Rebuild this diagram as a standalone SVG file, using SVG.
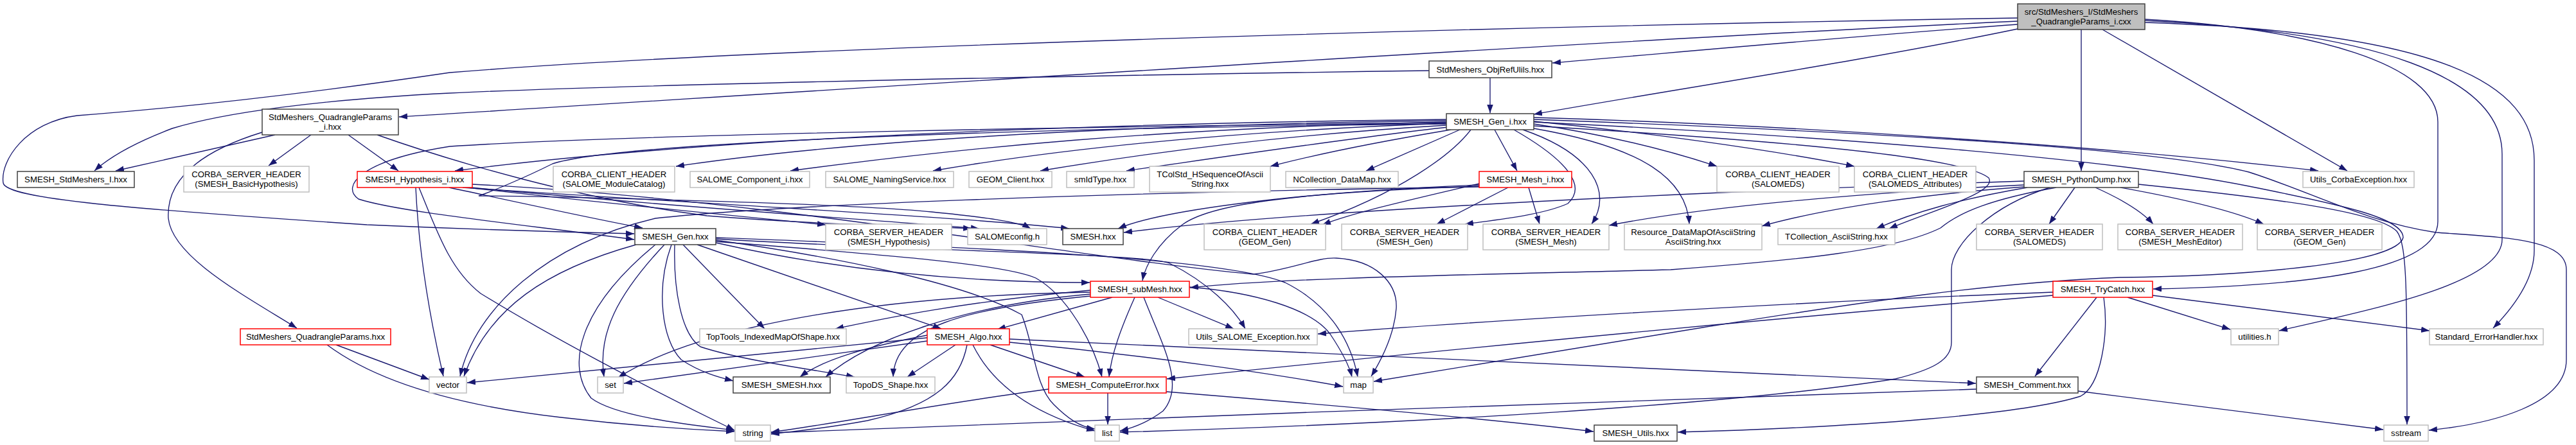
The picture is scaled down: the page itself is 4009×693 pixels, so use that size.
<svg xmlns="http://www.w3.org/2000/svg" width="4009" height="693" viewBox="0 0 4009 693">
<style>
.e{fill:none;stroke:#191970;stroke-width:1.35;marker-end:url(#a)}
.n rect{fill:#ffffff;stroke:#404040;stroke-width:1.5}
.g rect{stroke:#bfbfbf}
.r rect{stroke:#ff0000}
.t rect{fill:#bfbfbf}
text{font-family:"Liberation Sans",Arial,sans-serif;font-size:13.2px;text-anchor:middle;fill:#000000}
</style>
<defs>
<marker id="a" markerWidth="13" markerHeight="10" refX="13" refY="4.75" orient="auto" markerUnits="userSpaceOnUse"><path d="M0,0 L13,4.75 L0,9.5 z" fill="#191970"/></marker>
</defs>
<rect width="4009" height="693" fill="#ffffff"/>
<g id="edges">
<path class="e" d="M3140,33 C2500,62 1300,140 621,182"/>
<path class="e" d="M3140,38 C2900,55 2650,78 2416,98"/>
<path class="e" d="M3140,45 C2900,95 2600,140 2387,178"/>
<path class="e" d="M3239,46 L3239,266"/>
<path class="e" d="M3272,46 L3653,266"/>
<path class="e" d="M3140,28 C2400,40 1200,72 700,113 C450,150 250,170 120,180 C40,190 0,250 5,285 C10,310 200,325 571,350 C750,358 900,362 987,364"/>
<path class="e" d="M3338,30 C3600,45 3794,100 3794,190 L3794,345 C3794,420 3600,445 3351,450"/>
<path class="e" d="M3338,32 C3700,50 3894,120 3894,240 L3894,373 C3894,440 3700,480 3547,515"/>
<path class="e" d="M3338,35 C3800,50 3944,130 3944,250 L3944,390 C3944,430 3920,470 3880,511"/>
<path class="e" d="M2319,121 L2319,176"/>
<path class="e" d="M2224,110 C1500,120 900,135 700,145 C500,155 350,175 268,200 C210,222 170,245 147,266"/>
<path class="e" d="M428,210 L180,266"/>
<path class="e" d="M484,210 L418,258"/>
<path class="e" d="M542,210 L620,266"/>
<path class="e" d="M408,206 C330,230 258,270 262,340 C268,400 380,460 462,511"/>
<path class="e" d="M587,210 C700,250 900,310 1100,336 C1300,352 1450,352 1512,356"/>
<path class="e" d="M647,292 C652,400 670,500 690,586"/>
<path class="e" d="M652,292 C680,360 700,420 748,457 C850,520 1000,600 1143,670"/>
<path class="e" d="M699,292 C820,318 920,340 1000,355"/>
<path class="e" d="M728,292 C900,312 1100,332 1285,350"/>
<path class="e" d="M733,292 C1000,318 1350,342 1524,356"/>
<path class="e" d="M720,292 C1100,318 1500,338 1664,356"/>
<path class="e" d="M735,287 C1200,310 1700,405 1950,427 C2010,420 2050,400 2080,402 C2140,405 2175,440 2173,480 C2170,520 2150,560 2134,586"/>
<path class="e" d="M2251,186 C1700,192 1100,215 708,266"/>
<path class="e" d="M2251,188 C1700,195 1300,222 1052,259"/>
<path class="e" d="M2251,190 C1800,200 1500,230 1230,266"/>
<path class="e" d="M2251,192 C1900,205 1650,232 1452,266"/>
<path class="e" d="M2251,195 C2000,210 1800,236 1619,266"/>
<path class="e" d="M2253,198 C2100,215 1900,245 1753,266"/>
<path class="e" d="M2258,202 C2150,220 2050,240 1977,259"/>
<path class="e" d="M2272,202 L2126,266"/>
<path class="e" d="M2326,202 L2361,266"/>
<path class="e" d="M2251,191 C1800,196 1000,208 700,228 C560,250 530,290 558,310 C620,330 800,348 987,373"/>
<path class="e" d="M2251,193 C1500,200 950,225 860,255 C810,280 760,300 745,305 C800,305 1300,315 1450,330 C1530,338 1585,345 1604,356"/>
<path class="e" d="M2289,202 C2260,240 2180,300 2040,349"/>
<path class="e" d="M2356,202 C2440,250 2470,290 2440,317 C2400,335 2330,342 2280,349"/>
<path class="e" d="M2370,202 C2480,240 2510,300 2477,349"/>
<path class="e" d="M2387,200 C2560,230 2625,280 2629,349"/>
<path class="e" d="M2387,193 C2500,210 2600,235 2672,259"/>
<path class="e" d="M2387,189 C2550,205 2750,232 2886,259"/>
<path class="e" d="M2387,183 C2800,195 3300,230 3608,266"/>
<path class="e" d="M2387,196 C2700,215 3050,240 3095,277 C3110,300 3000,330 2940,356"/>
<path class="e" d="M2387,186 C2900,205 3350,230 3500,268 C3600,300 3680,345 3791,362 C3900,370 3994,372 3994,420 L3994,560 C3994,630 3880,660 3780,670"/>
<path class="e" d="M2387,190 C2900,215 3300,250 3500,290 C3650,320 3740,340 3740,370 C3730,410 3500,430 3300,432 C3100,440 2900,470 2650,510 C2400,550 2250,575 2138,594"/>
<path class="e" d="M2347,292 L2236,349"/>
<path class="e" d="M2379,292 L2396,349"/>
<path class="e" d="M2302,286 C2200,310 2110,330 2058,350"/>
<path class="e" d="M2302,288 C2000,300 1800,330 1740,356"/>
<path class="e" d="M2302,290 C2000,300 1880,320 1840,350 C1800,380 1782,415 1778,437"/>
<path class="e" d="M2302,291 C1700,300 1200,320 1020,340 C850,380 740,480 716,586"/>
<path class="e" d="M3150,282 C2600,300 2000,330 1749,362"/>
<path class="e" d="M3150,288 C2900,300 2650,322 2504,351"/>
<path class="e" d="M3150,291 C3000,302 2850,322 2742,352"/>
<path class="e" d="M3155,292 C3050,310 2980,330 2920,356"/>
<path class="e" d="M3229,292 L3189,349"/>
<path class="e" d="M3261,292 C3290,305 3330,325 3351,349"/>
<path class="e" d="M3300,292 C3400,310 3480,330 3523,349"/>
<path class="e" d="M3328,287 C3550,310 3700,330 3730,360 C3746,380 3746,450 3746,661"/>
<path class="e" d="M3190,292 C3100,320 3037,380 3037,420 L3037,533 C3037,560 3010,575 2950,590 C2700,630 2200,660 1743,673"/>
<path class="e" d="M3200,292 C3100,310 3050,330 3020,355 C2950,390 2800,405 2600,420 C2300,428 2000,432 1852,448"/>
<path class="e" d="M3195,455 C2800,470 2300,500 2051,520"/>
<path class="e" d="M3195,460 C2700,500 2100,560 1816,590"/>
<path class="e" d="M3263,463 L3167,586"/>
<path class="e" d="M3311,463 L3471,513"/>
<path class="e" d="M3350,460 L3781,515"/>
<path class="e" d="M3274,463 C3282,520 3270,600 3238,617 C3150,645 2900,665 2611,673"/>
<path class="e" d="M3076,606 C2500,625 1800,650 1200,674"/>
<path class="e" d="M3234,609 L3709,669"/>
<path class="e" d="M1487,537 L1412,587"/>
<path class="e" d="M1541,537 L1688,587"/>
<path class="e" d="M1514,537 C1545,600 1610,645 1704,671"/>
<path class="e" d="M1505,537 C1495,590 1460,630 1350,655 C1280,668 1230,672 1200,676"/>
<path class="e" d="M1443,526 L727,596"/>
<path class="e" d="M1443,531 L971,597"/>
<path class="e" d="M1443,522 C1350,540 1280,560 1245,587"/>
<path class="e" d="M1571,533 C1800,555 2000,585 2090,602"/>
<path class="e" d="M1571,528 L3075,597"/>
<path class="e" d="M1731,463 L1552,513"/>
<path class="e" d="M1766,463 C1745,510 1730,550 1726,587"/>
<path class="e" d="M1780,463 C1810,540 1845,600 1810,640 C1790,655 1770,665 1743,671"/>
<path class="e" d="M1802,463 L1920,512"/>
<path class="e" d="M1851,447 C1950,455 2040,480 2070,520 C2090,550 2100,570 2104,587"/>
<path class="e" d="M1697,461 C1500,480 1392,510 1390,587"/>
<path class="e" d="M1697,458 C1500,475 1350,530 1285,587"/>
<path class="e" d="M1697,455 C1400,460 1100,500 962,588"/>
<path class="e" d="M1697,452 C1500,470 1380,495 1300,512"/>
<path class="e" d="M990,381 C850,420 760,480 722,586"/>
<path class="e" d="M1034,381 C960,460 930,520 940,587"/>
<path class="e" d="M1020,381 C900,480 880,570 920,620 C960,650 1080,662 1143,670"/>
<path class="e" d="M1045,381 C1020,450 1030,530 1060,560 C1090,580 1120,588 1141,593"/>
<path class="e" d="M1050,381 C1048,450 1060,520 1090,540 C1150,560 1260,575 1330,587"/>
<path class="e" d="M1063,381 L1190,512"/>
<path class="e" d="M1085,381 L1465,512"/>
<path class="e" d="M1114,378 C1300,420 1500,440 1696,440"/>
<path class="e" d="M1114,376 C1350,395 1560,410 1612,433 C1660,460 1700,530 1715,587"/>
<path class="e" d="M1114,374 C1300,400 1500,440 1590,490 C1610,540 1610,600 1640,630 C1660,650 1680,665 1704,668"/>
<path class="e" d="M1114,370 C1500,385 1900,400 2000,440 C2060,470 2100,520 2113,587"/>
<path class="e" d="M1114,372 C1400,390 1790,395 1820,410 C1880,440 1920,480 1938,512"/>
<path class="e" d="M1724,612 L1724,661"/>
<path class="e" d="M1632,606 C1450,630 1300,660 1200,673"/>
<path class="e" d="M1815,610 C2000,625 2300,650 2480,672"/>
<path class="e" d="M523,537 L668,591"/>
<path class="e" d="M509,537 C580,590 700,630 873,650 C1000,665 1100,670 1143,672"/>
</g>
<g id="node-top" class="n t"><rect x="3140" y="6" width="198" height="40"/><text x="3239" y="23.2">src/StdMeshers_I/StdMeshers</text><text x="3239" y="38.2">_QuadrangleParams_i.cxx</text></g>
<g id="node-objrefulils" class="n"><rect x="2224" y="95" width="191" height="26"/><text x="2319.5" y="112.7">StdMeshers_ObjRefUlils.hxx</text></g>
<g id="node-qp-i" class="n"><rect x="408" y="170" width="212" height="40"/><text x="514" y="187.2">StdMeshers_QuadrangleParams</text><text x="514" y="202.2">_i.hxx</text></g>
<g id="node-gen-i" class="n"><rect x="2251" y="177" width="136" height="25"/><text x="2319" y="194.2">SMESH_Gen_i.hxx</text></g>
<g id="node-stdmeshers-i" class="n"><rect x="27" y="267" width="182" height="25"/><text x="118" y="284.2">SMESH_StdMeshers_I.hxx</text></g>
<g id="node-basichyp" class="n g"><rect x="286" y="259" width="195" height="40"/><text x="383.5" y="276.2">CORBA_SERVER_HEADER</text><text x="383.5" y="291.2">(SMESH_BasicHypothesis)</text></g>
<g id="node-hyp-i" class="n r"><rect x="556" y="267" width="179" height="25"/><text x="645.5" y="284.2">SMESH_Hypothesis_i.hxx</text></g>
<g id="node-modcat" class="n g"><rect x="861" y="259" width="189" height="40"/><text x="955.5" y="276.2">CORBA_CLIENT_HEADER</text><text x="955.5" y="291.2">(SALOME_ModuleCatalog)</text></g>
<g id="node-component" class="n g"><rect x="1074" y="267" width="186" height="25"/><text x="1167" y="284.2">SALOME_Component_i.hxx</text></g>
<g id="node-naming" class="n g"><rect x="1285" y="267" width="199" height="25"/><text x="1384.5" y="284.2">SALOME_NamingService.hxx</text></g>
<g id="node-geomclient" class="n g"><rect x="1508" y="267" width="129" height="25"/><text x="1572.5" y="284.2">GEOM_Client.hxx</text></g>
<g id="node-smidtype" class="n g"><rect x="1660" y="267" width="105" height="25"/><text x="1712.5" y="284.2">smIdType.hxx</text></g>
<g id="node-tcolstd" class="n g"><rect x="1789" y="259" width="188" height="40"/><text x="1883" y="276.2">TColStd_HSequenceOfAscii</text><text x="1883" y="291.2">String.hxx</text></g>
<g id="node-ncollection" class="n g"><rect x="2001" y="267" width="175" height="25"/><text x="2088.5" y="284.2">NCollection_DataMap.hxx</text></g>
<g id="node-mesh-i" class="n r"><rect x="2302" y="267" width="144" height="25"/><text x="2374" y="284.2">SMESH_Mesh_i.hxx</text></g>
<g id="node-salomeds-client" class="n g"><rect x="2672" y="259" width="190" height="40"/><text x="2767" y="276.2">CORBA_CLIENT_HEADER</text><text x="2767" y="291.2">(SALOMEDS)</text></g>
<g id="node-salomeds-attr" class="n g"><rect x="2886" y="259" width="189" height="40"/><text x="2980.5" y="276.2">CORBA_CLIENT_HEADER</text><text x="2980.5" y="291.2">(SALOMEDS_Attributes)</text></g>
<g id="node-pythondump" class="n"><rect x="3150" y="267" width="178" height="25"/><text x="3239" y="284.2">SMESH_PythonDump.hxx</text></g>
<g id="node-corbaexc" class="n g"><rect x="3584" y="267" width="173" height="25"/><text x="3670.5" y="284.2">Utils_CorbaException.hxx</text></g>
<g id="node-gen" class="n"><rect x="988" y="356" width="126" height="25"/><text x="1051" y="373.2">SMESH_Gen.hxx</text></g>
<g id="node-hyp-server" class="n g"><rect x="1285" y="349" width="196" height="40"/><text x="1383" y="366.2">CORBA_SERVER_HEADER</text><text x="1383" y="381.2">(SMESH_Hypothesis)</text></g>
<g id="node-salomeconfig" class="n g"><rect x="1506" y="356" width="123" height="25"/><text x="1567.5" y="373.2">SALOMEconfig.h</text></g>
<g id="node-smesh" class="n"><rect x="1654" y="356" width="94" height="25"/><text x="1701" y="373.2">SMESH.hxx</text></g>
<g id="node-geomgen-client" class="n g"><rect x="1874" y="349" width="189" height="40"/><text x="1968.5" y="366.2">CORBA_CLIENT_HEADER</text><text x="1968.5" y="381.2">(GEOM_Gen)</text></g>
<g id="node-smeshgen-server" class="n g"><rect x="2088" y="349" width="196" height="40"/><text x="2186" y="366.2">CORBA_SERVER_HEADER</text><text x="2186" y="381.2">(SMESH_Gen)</text></g>
<g id="node-smeshmesh-server" class="n g"><rect x="2308" y="349" width="196" height="40"/><text x="2406" y="366.2">CORBA_SERVER_HEADER</text><text x="2406" y="381.2">(SMESH_Mesh)</text></g>
<g id="node-resource" class="n g"><rect x="2528" y="349" width="214" height="40"/><text x="2635" y="366.2">Resource_DataMapOfAsciiString</text><text x="2635" y="381.2">AsciiString.hxx</text></g>
<g id="node-tcollection" class="n g"><rect x="2767" y="356" width="182" height="25"/><text x="2858" y="373.2">TCollection_AsciiString.hxx</text></g>
<g id="node-salomeds-server" class="n g"><rect x="3076" y="349" width="196" height="40"/><text x="3174" y="366.2">CORBA_SERVER_HEADER</text><text x="3174" y="381.2">(SALOMEDS)</text></g>
<g id="node-mesheditor-server" class="n g"><rect x="3296" y="349" width="194" height="40"/><text x="3393" y="366.2">CORBA_SERVER_HEADER</text><text x="3393" y="381.2">(SMESH_MeshEditor)</text></g>
<g id="node-geomgen-server" class="n g"><rect x="3513" y="349" width="194" height="40"/><text x="3610" y="366.2">CORBA_SERVER_HEADER</text><text x="3610" y="381.2">(GEOM_Gen)</text></g>
<g id="node-submesh" class="n r"><rect x="1697" y="438" width="154" height="25"/><text x="1774" y="455.2">SMESH_subMesh.hxx</text></g>
<g id="node-trycatch" class="n r"><rect x="3195" y="438" width="155" height="25"/><text x="3272.5" y="455.2">SMESH_TryCatch.hxx</text></g>
<g id="node-qp" class="n r"><rect x="374" y="512" width="234" height="25"/><text x="491" y="529.2">StdMeshers_QuadrangleParams.hxx</text></g>
<g id="node-toptools" class="n g"><rect x="1089" y="512" width="228" height="25"/><text x="1203" y="529.2">TopTools_IndexedMapOfShape.hxx</text></g>
<g id="node-algo" class="n r"><rect x="1443" y="512" width="128" height="25"/><text x="1507" y="529.2">SMESH_Algo.hxx</text></g>
<g id="node-salomeexc" class="n g"><rect x="1850" y="512" width="200" height="25"/><text x="1950" y="529.2">Utils_SALOME_Exception.hxx</text></g>
<g id="node-utilities" class="n g"><rect x="3472" y="512" width="74" height="25"/><text x="3509" y="529.2">utilities.h</text></g>
<g id="node-stderr" class="n g"><rect x="3781" y="512" width="177" height="25"/><text x="3869.5" y="529.2">Standard_ErrorHandler.hxx</text></g>
<g id="node-vector" class="n g"><rect x="668" y="587" width="58" height="25"/><text x="697" y="604.2">vector</text></g>
<g id="node-set" class="n g"><rect x="930" y="587" width="40" height="25"/><text x="950" y="604.2">set</text></g>
<g id="node-smesh-smesh" class="n"><rect x="1141" y="587" width="151" height="25"/><text x="1216.5" y="604.2">SMESH_SMESH.hxx</text></g>
<g id="node-topods" class="n g"><rect x="1317" y="587" width="138" height="25"/><text x="1386" y="604.2">TopoDS_Shape.hxx</text></g>
<g id="node-computeerror" class="n r"><rect x="1632" y="587" width="183" height="25"/><text x="1723.5" y="604.2">SMESH_ComputeError.hxx</text></g>
<g id="node-map" class="n g"><rect x="2091" y="587" width="46" height="25"/><text x="2114" y="604.2">map</text></g>
<g id="node-comment" class="n"><rect x="3076" y="587" width="158" height="25"/><text x="3155" y="604.2">SMESH_Comment.hxx</text></g>
<g id="node-string" class="n g"><rect x="1144" y="662" width="55" height="25"/><text x="1171.5" y="679.2">string</text></g>
<g id="node-list" class="n g"><rect x="1704" y="662" width="38" height="25"/><text x="1723" y="679.2">list</text></g>
<g id="node-utils" class="n"><rect x="2481" y="662" width="129" height="25"/><text x="2545.5" y="679.2">SMESH_Utils.hxx</text></g>
<g id="node-sstream" class="n g"><rect x="3710" y="662" width="69" height="25"/><text x="3744.5" y="679.2">sstream</text></g>
</svg>
